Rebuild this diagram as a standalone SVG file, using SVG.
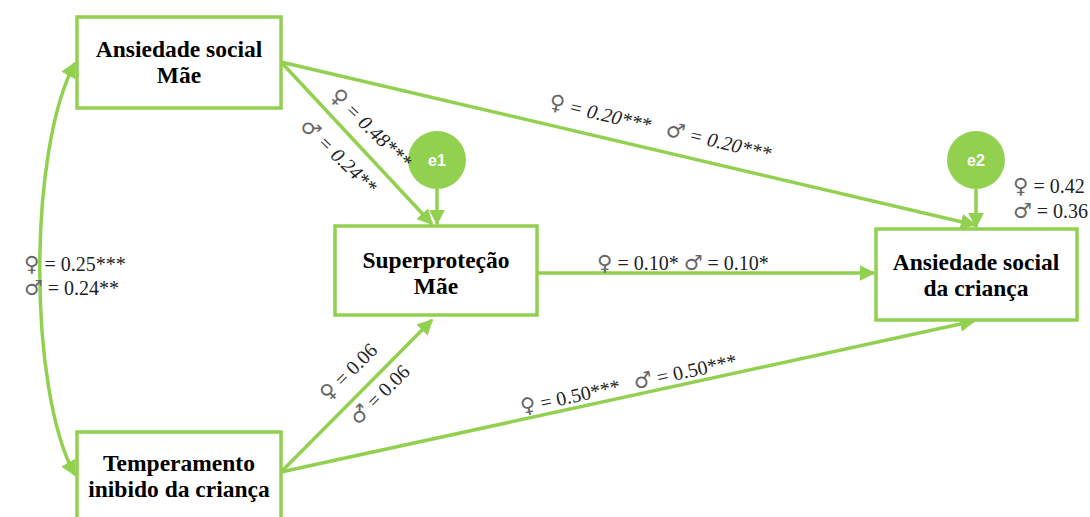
<svg xmlns="http://www.w3.org/2000/svg" width="1090" height="517" viewBox="0 0 1090 517">
<defs>
<marker id="ah" viewBox="0 0 10 10" refX="9" refY="5" markerWidth="4.5" markerHeight="4.5" orient="auto-start-reverse" markerUnits="strokeWidth">
<path d="M0,0 L10,5 L0,10 Z" fill="#92D050"/>
</marker>
<style>
.box{fill:#fff;stroke:#92D050;stroke-width:3.5}
.lbl{font-family:"Liberation Serif",serif;font-weight:bold;font-size:23.5px;fill:#000;text-anchor:middle}
.c{stroke:#92D050;stroke-width:3.5;fill:none}
.e{fill:#92D050}
.et{font-family:"Liberation Sans",sans-serif;font-weight:bold;font-size:16px;fill:#fff;text-anchor:middle}
.v{font-family:"Liberation Serif",serif;font-size:20px;fill:#222}
.vi{font-family:"Liberation Serif",serif;font-size:20px;fill:#222;font-style:italic}
.s{font-family:"DejaVu Sans",sans-serif;font-style:normal;fill:#666;font-size:1.05em}
</style>
</defs>
<g id="connectors">
<path class="c" d="M281,62 L975,225" marker-end="url(#ah)"/>
<path class="c" d="M281,62 L432,224" marker-end="url(#ah)"/>
<path class="c" d="M437,189 L437,224" marker-end="url(#ah)"/>
<path class="c" d="M976,189 L976,227" marker-end="url(#ah)"/>
<path class="c" d="M537,273 L874,273" marker-end="url(#ah)"/>
<path class="c" d="M281,472 L432,320" marker-end="url(#ah)"/>
<path class="c" d="M281,472 L974,321" marker-end="url(#ah)"/>
<path class="c" d="M75,63 C28,150 28,390 75,475" marker-start="url(#ah)" marker-end="url(#ah)"/>
</g>
<g id="n1"><rect class="box" x="77" y="17" width="204" height="91"/><text class="lbl" x="179" y="57">Ansiedade social</text><text class="lbl" x="179" y="83">Mãe</text></g>
<g id="n2"><rect class="box" x="335" y="226" width="202" height="89"/><text class="lbl" x="436" y="268">Superproteção</text><text class="lbl" x="436" y="294">Mãe</text></g>
<g id="n3"><rect class="box" x="876" y="229" width="201" height="91"/><text class="lbl" x="976" y="270">Ansiedade social</text><text class="lbl" x="976" y="296">da criança</text></g>
<g id="n4"><rect class="box" x="77" y="432" width="204" height="95"/><text class="lbl" x="179" y="471">Temperamento</text><text class="lbl" x="179" y="497">inibido da criança</text></g>
<g id="e1"><circle class="e" cx="437" cy="160" r="29"/><text class="et" x="437" y="166">e1</text></g>
<g id="e2"><circle class="e" cx="976" cy="160" r="29"/><text class="et" x="976" y="166">e2</text></g>
<g id="labels">
<text class="v" x="24" y="271" font-size="21"><tspan class="s">♀</tspan> = 0.25***</text>
<text class="v" x="24" y="295" font-size="21"><tspan class="s">♂</tspan> = 0.24**</text>
<text class="v" x="1013" y="193" font-size="21"><tspan class="s">♀</tspan> = 0.42</text>
<text class="v" x="1013" y="218" font-size="21"><tspan class="s">♂</tspan> = 0.36</text>
<text class="v" x="597" y="270" font-size="21.5"><tspan class="s">♀</tspan> = 0.10*  <tspan class="s">♂</tspan> = 0.10*</text>
<g transform="translate(548,108) rotate(13.3)"><text class="vi"><tspan class="s">♀</tspan> = 0.20***</text><text class="vi" x="120"><tspan class="s">♂</tspan> = 0.20***</text></g>
<g transform="translate(329,97) rotate(44)"><text class="vi"><tspan class="s">♀</tspan> = 0.48***</text></g>
<g transform="translate(299,127) rotate(44)"><text class="vi"><tspan class="s">♂</tspan> = 0.24**</text></g>
<g transform="translate(328,402) rotate(-45)"><text class="v"><tspan class="s">♀</tspan> = 0.06</text></g>
<g transform="translate(358,426) rotate(-45)"><text class="v"><tspan class="s">♂</tspan> = 0.06</text></g>
<g transform="translate(522,414) rotate(-12.3)"><text class="v"><tspan class="s">♀</tspan> = 0.50***</text><text class="v" x="116"><tspan class="s">♂</tspan> = 0.50***</text></g>
</g>
</svg>
